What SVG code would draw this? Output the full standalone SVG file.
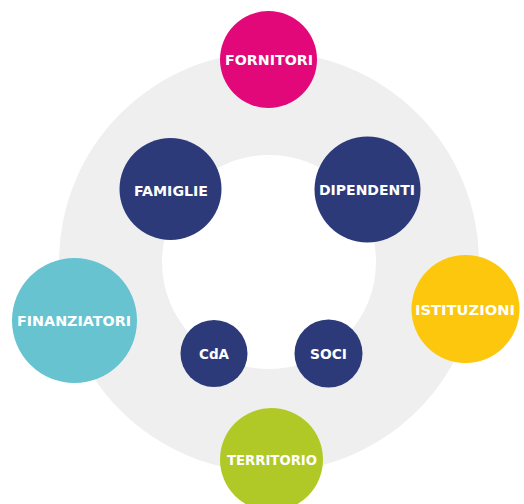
<svg xmlns="http://www.w3.org/2000/svg" width="524" height="504" viewBox="0 0 524 504">
<style>
.lbl{font-family:"DejaVu Sans","Liberation Sans",sans-serif;font-weight:bold;font-size:14px;fill:#ffffff;text-anchor:middle}
.navy{fill:#2c3a7a}
</style>
<rect width="524" height="504" fill="#ffffff"/>
<path d="M59,262 a210,210 0 1,0 420,0 a210,210 0 1,0 -420,0 Z M162,262 a107,107 0 1,1 214,0 a107,107 0 1,1 -214,0 Z" fill="#efefef" fill-rule="evenodd"/>
<g id="connectors"></g>
<g id="fornitori"><circle cx="268.5" cy="59.5" r="48.5" fill="#e2087a"/><text class="lbl" x="269" y="64.5" textLength="88" lengthAdjust="spacingAndGlyphs">FORNITORI</text></g>
<g id="famiglie"><circle class="navy" cx="170.5" cy="189" r="51"/><text class="lbl" x="171" y="196" textLength="74" lengthAdjust="spacingAndGlyphs">FAMIGLIE</text></g>
<g id="dipendenti"><circle class="navy" cx="367.5" cy="189.5" r="53"/><text class="lbl" x="367" y="195" textLength="96" lengthAdjust="spacingAndGlyphs">DIPENDENTI</text></g>
<g id="finanziatori"><circle cx="74.5" cy="320.5" r="62.5" fill="#67c3d0"/><text class="lbl" x="74" y="326" textLength="114" lengthAdjust="spacingAndGlyphs">FINANZIATORI</text></g>
<g id="istituzioni"><circle cx="465.5" cy="309" r="54" fill="#fcc70c"/><text class="lbl" x="465" y="315" textLength="100" lengthAdjust="spacingAndGlyphs">ISTITUZIONI</text></g>
<g id="cda"><circle class="navy" cx="214" cy="353.5" r="33.5"/><text class="lbl" x="214" y="359" textLength="30" lengthAdjust="spacingAndGlyphs">CdA</text></g>
<g id="soci"><circle class="navy" cx="328.5" cy="353.5" r="34"/><text class="lbl" x="328.5" y="359" textLength="37" lengthAdjust="spacingAndGlyphs">SOCI</text></g>
<g id="territorio"><circle cx="271.5" cy="459.5" r="51.5" fill="#b0c927"/><text class="lbl" x="272" y="465" textLength="90" lengthAdjust="spacingAndGlyphs">TERRITORIO</text></g>
</svg>
